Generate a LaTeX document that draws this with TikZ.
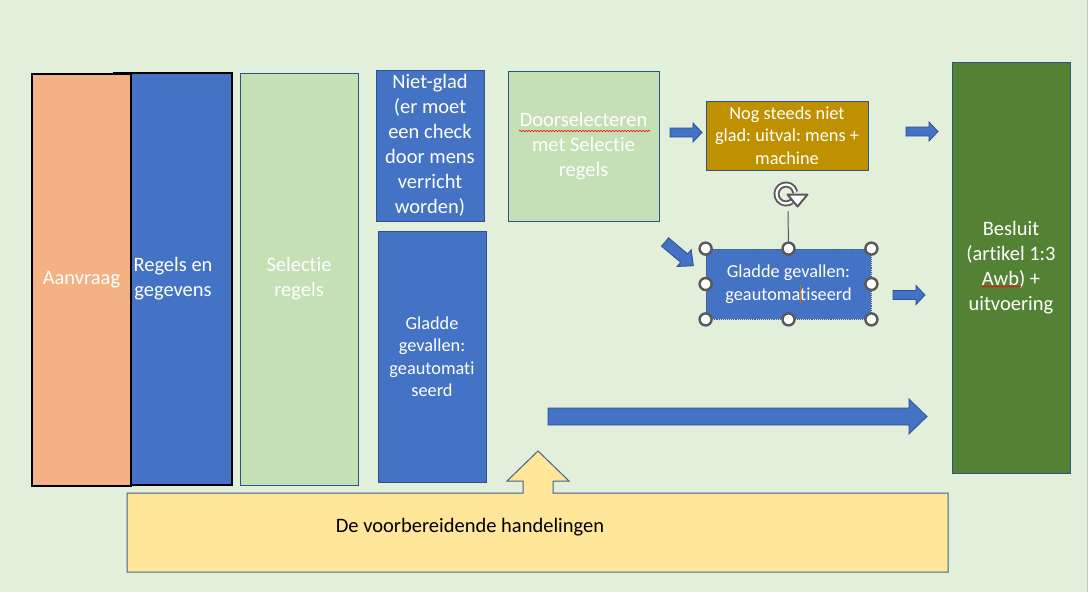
\documentclass[tikz,border=0pt]{standalone}
\usepackage{fontspec}
\setmainfont{Carlito}[Ligatures=NoCommon]
\usetikzlibrary{decorations.pathmorphing}
\definecolor{bg}{HTML}{E2EFDA}
\definecolor{mblue}{HTML}{4472C4}
\definecolor{dblue}{HTML}{2F528F}
\definecolor{lgreen}{HTML}{C5E0B4}
\definecolor{dgreen}{HTML}{548235}
\definecolor{peach}{HTML}{F4B183}
\definecolor{gold}{HTML}{BF9000}
\definecolor{pyellow}{HTML}{FFE699}
\definecolor{hgray}{HTML}{595959}
\frenchspacing
\tikzset{
  box/.style={draw=dblue, line width=0.9pt, inner sep=0pt, align=center, text=white},
  bigtext/.style={font=\fontsize{20.5}{25}\selectfont},
  smalltext/.style={font=\fontsize{18.3}{22.5}\selectfont},
  blockarrow/.style={fill=mblue, draw=dblue, line width=0.8pt},
  blockarr/.pic={\draw[blockarrow] (0,-4.5) -- (23,-4.5) -- (23,-9.5) -- (32,0) -- (23,9.5) -- (23,4.5) -- (0,4.5) -- cycle;},
  bigblockarr/.pic={\draw[blockarrow] (0,-5.5) -- (25,-5.5) -- (25,-11) -- (37,0) -- (25,11) -- (25,5.5) -- (0,5.5) -- cycle;},
  handle/.style={circle, fill=white, draw=hgray, line width=2.4pt, minimum size=12pt, inner sep=0pt},
  squiggle/.style={red, line width=0.6pt, decorate, decoration={snake, amplitude=0.7pt, segment length=3pt}}
}
\begin{document}
\begin{tikzpicture}[x=1pt,y=-1pt]
\useasboundingbox (0,0) rectangle (1089,592);
\fill[bg] (0,0) rectangle (1087,592);
\draw[gray!45, line width=1pt] (1087,0) -- (1087,592);

% tall boxes
\node[box, draw=black, line width=1.1pt, fill=mblue, minimum width=118, minimum height=412, bigtext] (regels) at (173,279) {Regels en\\gegevens};
\node[box, draw=black, line width=1.1pt, fill=peach, minimum width=99, minimum height=412, bigtext] (aanvraag) at (81.5,280) {Aanvraag};
\node[box, fill=lgreen, minimum width=118, minimum height=412, bigtext] (selectie) at (299,279) {Selectie\\regels};
\node[box, fill=mblue, minimum width=108, minimum height=151, bigtext] (nietglad) at (430,145.5) {Niet-glad\\(er moet\\een check\\door mens\\verricht\\worden)};
\node[box, fill=mblue, minimum width=108, minimum height=251, smalltext] (gladL) at (432,356.5) {Gladde\\gevallen:\\geautomati\\seerd};
\node[box, fill=lgreen, minimum width=151, minimum height=150, bigtext] (door) at (583.5,146) {Doorselecteren\\met Selectie\\regels};
\node[box, fill=gold, minimum width=162, minimum height=69, smalltext] (nog) at (787,135.5) {Nog steeds niet\\glad: uitval: mens +\\machine};
\node[box, fill=mblue, draw=hgray, densely dotted, line width=0.8pt, minimum width=165, minimum height=70, smalltext] (gladR) at (788.5,284) {Gladde gevallen:\\geautomatiseerd};
\node[box, fill=dgreen, minimum width=118, minimum height=411, bigtext] (besluit) at (1011,267.5) {Besluit\\(artikel 1:3\\Awb) +\\uitvoering};

% spell-check squiggles and caret
\draw[squiggle] (519,131) -- (650,131);
\draw[squiggle] (981,286.5) -- (1021,286.5);
\draw[orange!85!black, line width=1pt] (800.5,285) -- (800.5,305);

% yellow box with up arrow
\draw[fill=pyellow, draw=dblue!70!gray, line width=1pt]
  (127,493) -- (523,493) -- (523,481) -- (507,481) -- (538,451) -- (569,481) -- (553,481) -- (553,493)
  -- (948,493) -- (948,572) -- (127,572) -- cycle;
\node[font=\fontsize{20.5}{25}\selectfont, text=black] (prep) at (470,527) {De voorbereidende handelingen};

% block arrows
\draw[blockarrow] (548,408) -- (909,408) -- (909,399) -- (927,416.5) -- (909,434) -- (909,425) -- (548,425) -- cycle;
\pic at (670,132.5) {blockarr};
\pic at (906,131.5) {blockarr};
\pic at (893,295) {blockarr};
\pic[rotate=-40] at (665,242) {bigblockarr};

% rotation handle and selection handles
\coordinate (roth) at (786,194);
\draw[hgray, line width=1pt] (788,211) -- (gladR.north);
\draw[hgray, line width=6pt] (roth) ++(50:9.5) arc (50:350:9.5);
\draw[white, line width=2.2pt] (roth) ++(50:9.5) arc (50:350:9.5);
\draw[fill=white, draw=hgray, line width=2pt, line join=round] (787.5,194.5) -- (807.5,194.5) -- (797.5,206.5) -- cycle;
\foreach \a in {north west, north, north east, west, east, south west, south, south east}
  \node[handle] at (gladR.\a) {};
\end{tikzpicture}
\end{document}
